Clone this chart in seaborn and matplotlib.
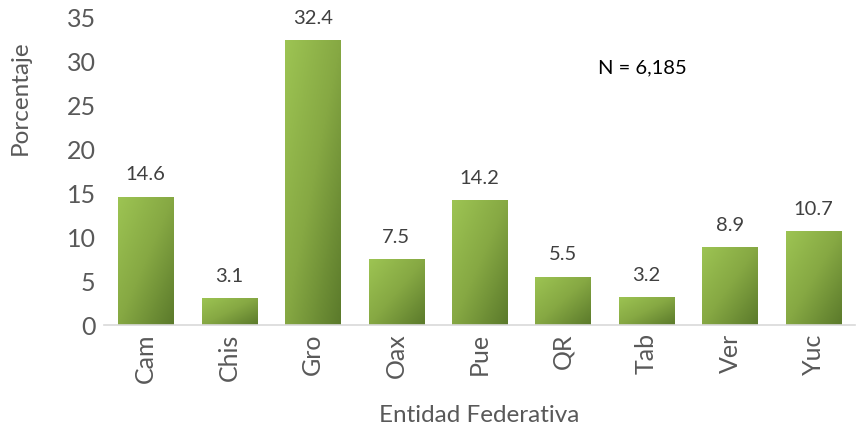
import numpy as np
import pandas as pd
import matplotlib
matplotlib.use("Agg")
import matplotlib.pyplot as plt
import seaborn as sns
from matplotlib.colors import LinearSegmentedColormap

# =====================================================
# DATA
# =====================================================

entidades = ["Cam", "Chis", "Gro", "Oax", "Pue", "QR", "Tab", "Ver", "Yuc"]
porcentaje = [14.6, 3.1, 32.4, 7.5, 14.2, 5.5, 3.2, 8.9, 10.7]
yticks = [0, 5, 10, 15, 20, 25, 30, 35]

df = pd.DataFrame({"Entidad": entidades, "Porcentaje": porcentaje})

# =====================================================
# STYLE
# =====================================================

sns.set_style("white")
plt.rcParams["font.family"] = ["Lato", "DejaVu Sans"]
gray = "#595959"

fig = plt.figure(figsize=(8.56, 4.29), dpi=100)
ax = fig.add_axes([0.1215, 0.2424, 0.8775, 0.7176])

sns.barplot(
    x="Entidad",
    y="Porcentaje",
    data=df,
    color="#8fb04a",
    width=0.66,
    ax=ax
)

# diagonal gradient fill on each bar
cmap = LinearSegmentedColormap.from_list("g", ["#9dc453", "#86a843", "#5b7a2b"])
grad = np.add.outer(np.linspace(0, 1, 64), np.linspace(0, 1, 64)) / 2
for p in ax.patches:
    x0, y0 = p.get_x(), p.get_y()
    w, h = p.get_width(), p.get_height()
    im = ax.imshow(
        grad,
        cmap=cmap,
        extent=[x0, x0 + w, y0, y0 + h],
        origin="upper",
        aspect="auto",
        zorder=p.get_zorder() + 0.1
    )
    im.set_clip_path(p)
    p.set_edgecolor("none")

for p, v in zip(ax.patches, porcentaje):
    ax.text(
        p.get_x() + p.get_width() / 2,
        v + 1.5,
        f"{v:.1f}",
        ha="center",
        va="bottom",
        fontsize=14.5,
        color="#404040"
    )

ax.set_xlim(-0.5, len(entidades) - 0.5)
ax.set_ylim(0, 35)
ax.set_yticks(yticks)
ax.tick_params(axis="y", labelsize=18, labelcolor=gray, length=0, pad=6)
ax.tick_params(axis="x", labelsize=18, labelcolor=gray, length=0, pad=6)
plt.xticks(rotation=90)

ax.set_xlabel("Entidad Federativa", fontsize=17.5, color=gray, labelpad=16)
ax.set_ylabel("Porcentaje", fontsize=17.5, color=gray)
ax.yaxis.set_label_coords(-0.097, 0.74)

for s in ["top", "right", "left"]:
    ax.spines[s].set_visible(False)
ax.spines["bottom"].set_color("#d9d9d9")
ax.spines["bottom"].set_linewidth(1.2)

ax.text(5.95, 29.2, "N = 6,185", fontsize=14.5, color="black",
        ha="center", va="center")

fig.savefig("out.png", dpi=100)
